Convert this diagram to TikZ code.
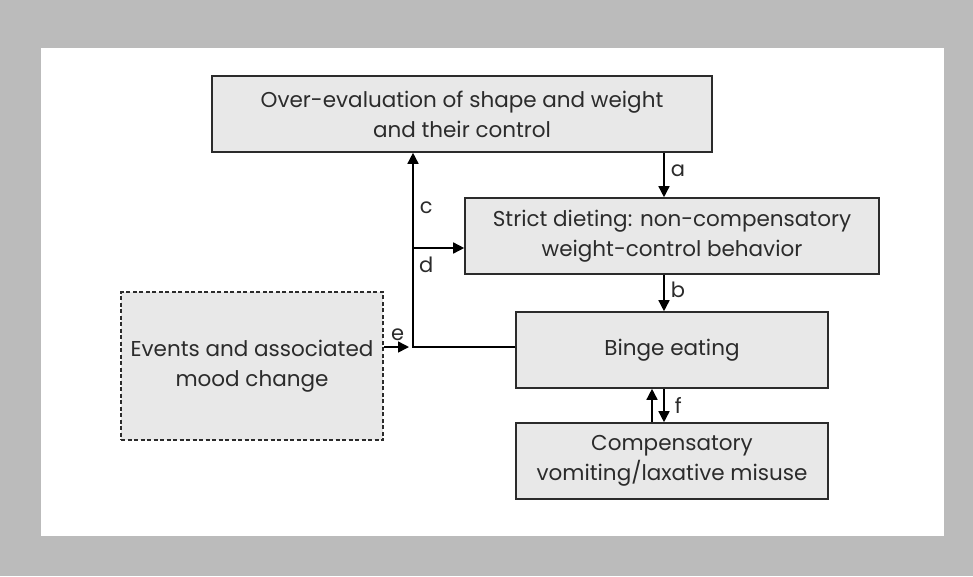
\documentclass[tikz,border=0pt]{standalone}
\usepackage{fontspec}
\setmainfont{Poppins}
\usetikzlibrary{arrows.meta,positioning}

\definecolor{frameGray}{HTML}{BBBBBB}
\definecolor{boxFill}{HTML}{E8E8E8}
\definecolor{inkGray}{HTML}{2B2B2B}

\begin{document}
\begin{tikzpicture}[x=1pt,y=-1pt,>={Triangle[length=11pt,width=11pt]}]
  \tikzstyle{block} = [draw=inkGray, line width=1.6pt, fill=boxFill, rectangle, align=center, text=inkGray, font={\fontsize{21.5}{30}\selectfont}, inner sep=0pt]
  \tikzstyle{moodBlock} = [block, dash pattern=on 4pt off 2.5pt]
  \tikzstyle{link} = [black, line width=1.5pt]
  \tikzstyle{linkArrow} = [link,->]
  \tikzstyle{linkLabel} = [font={\fontsize{21}{24}\selectfont}, text=inkGray, inner sep=0pt]

  % frame
  \fill[frameGray] (0,0) rectangle (973,576);
  \fill[white] (41,48) rectangle (944,536);

  \node[block, minimum width=500pt, minimum height=76pt] (over)   at (462,114) {Over-evaluation of shape and weight\\and their control};
  \node[block, minimum width=414pt, minimum height=76pt] (strict) at (672,236) {Strict dieting: non-compensatory\\weight-control behavior};
  \node[block, minimum width=312pt, minimum height=76pt] (binge)  at (672,350) {Binge eating};
  \node[block, minimum width=312pt, minimum height=76pt] (comp)   at (672,461) {Compensatory\\vomiting/laxative misuse};
  \node[moodBlock, minimum width=262pt, minimum height=148pt] (mood) at (252,366) {Events and associated\\mood change};

  \coordinate (col)   at (664,0);
  \coordinate (colUp) at (652,0);
  \coordinate (trunk) at (413,347);
  \coordinate (split) at (413,248);
  \coordinate (eEnd)  at (409,347);

  \draw[linkArrow] (over.south -| col) -- node[linkLabel, right=6pt, pos=0.4] {a} (strict.north -| col);
  \draw[linkArrow] (strict.south -| col) -- node[linkLabel, right=6pt, pos=0.4] {b} (binge.north -| col);
  \draw[linkArrow] (binge.south -| col) -- node[linkLabel, right=10pt, pos=0.5] {f} (comp.north -| col);
  \draw[linkArrow] (comp.north -| colUp) -- (binge.south -| colUp);

  \draw[link] (binge.west |- trunk) -- (trunk) -- (split);
  \draw[linkArrow] (split) -- node[linkLabel, right=6pt, pos=0.42] {c} (over.south -| split);
  \draw[linkArrow] (split) -- (strict.west |- split);
  \node[linkLabel, anchor=north west] (dLabel) at ([xshift=6pt,yshift=-9pt]split) {d};
  \draw[linkArrow] (mood.east |- trunk) -- node[linkLabel, above=6pt, pos=0.55] {e} (eEnd);
\end{tikzpicture}
\end{document}
